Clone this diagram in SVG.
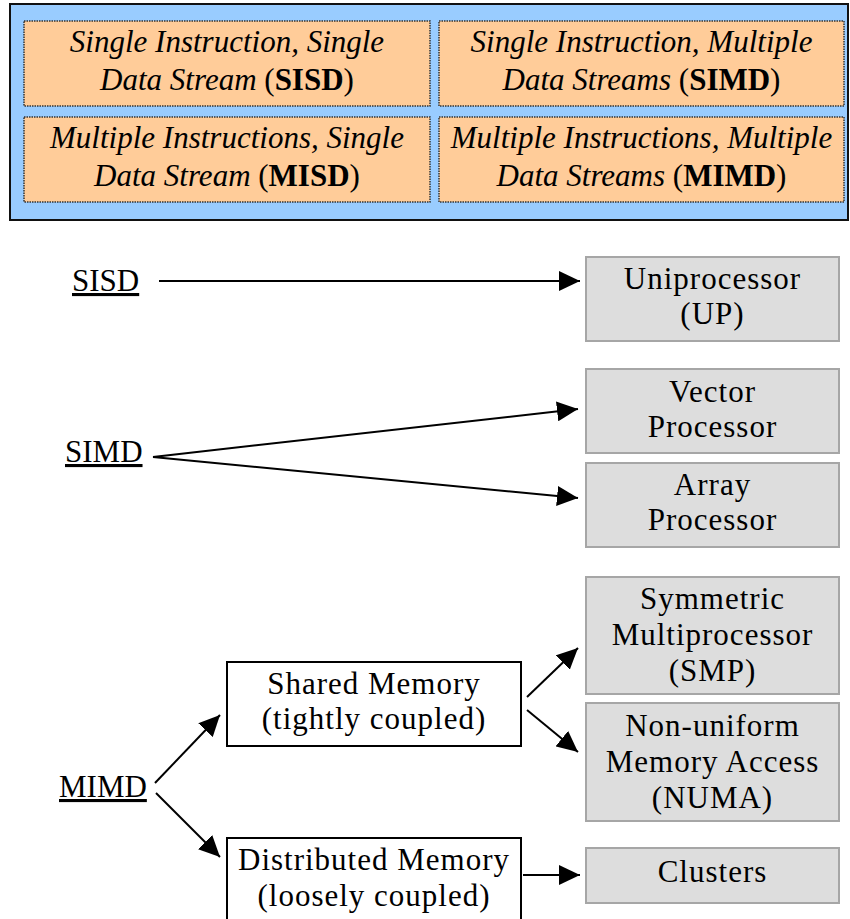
<svg xmlns="http://www.w3.org/2000/svg" width="850" height="919" viewBox="0 0 850 919">
  <style>
    text { font-family: "Liberation Serif", serif; font-size: 31px; fill: #000; }
    .cell-text { font-style: italic; text-anchor: middle; }
    .cell-text .abbr { font-style: normal; font-weight: bold; }
    .cell-text .paren { font-style: normal; }
    .label { text-decoration: underline; }
    .box-text { text-anchor: middle; letter-spacing: 1px; }
    .panel { fill: #99ccff; stroke: #111; stroke-width: 2; }
    .cell { fill: #ffcc99; stroke: #333; stroke-width: 1.5; stroke-dasharray: 1.5 1; }
    .machine { fill: #dddddd; stroke: #a6a6a6; stroke-width: 2; }
    .memory { fill: #fff; stroke: #000; stroke-width: 2; }
    .conn line { stroke: #000; stroke-width: 2; marker-end: url(#arrow); }
  </style>
  <defs>
    <marker id="arrow" markerUnits="userSpaceOnUse" markerWidth="21" markerHeight="20" refX="21" refY="10" orient="auto">
      <path d="M0,0 L21,10 L0,20 Z" fill="#000"/>
    </marker>
  </defs>

  <rect width="850" height="919" fill="#fff"/>

  <!-- Flynn's taxonomy table -->
  <g id="taxonomy">
    <rect class="panel" x="10" y="4" width="838" height="216"/>
    <g id="cell-sisd">
      <rect class="cell" x="24" y="21" width="406" height="85"/>
      <text class="cell-text" x="227" y="52">Single Instruction, Single</text>
      <text class="cell-text" x="227" y="90">Data Stream <tspan class="paren">(</tspan><tspan class="abbr">SISD</tspan><tspan class="paren">)</tspan></text>
    </g>
    <g id="cell-simd">
      <rect class="cell" x="439" y="21" width="405" height="85"/>
      <text class="cell-text" x="641.5" y="52">Single Instruction, Multiple</text>
      <text class="cell-text" x="641.5" y="90">Data Streams <tspan class="paren">(</tspan><tspan class="abbr">SIMD</tspan><tspan class="paren">)</tspan></text>
    </g>
    <g id="cell-misd">
      <rect class="cell" x="24" y="117" width="406" height="85"/>
      <text class="cell-text" x="227" y="148">Multiple Instructions, Single</text>
      <text class="cell-text" x="227" y="186">Data Stream <tspan class="paren">(</tspan><tspan class="abbr">MISD</tspan><tspan class="paren">)</tspan></text>
    </g>
    <g id="cell-mimd">
      <rect class="cell" x="439" y="117" width="405" height="85"/>
      <text class="cell-text" x="641.5" y="148">Multiple Instructions, Multiple</text>
      <text class="cell-text" x="641.5" y="186">Data Streams <tspan class="paren">(</tspan><tspan class="abbr">MIMD</tspan><tspan class="paren">)</tspan></text>
    </g>
  </g>

  <!-- Connectors -->
  <g id="connectors" class="conn">
    <line x1="159" y1="281" x2="580" y2="281"/>
    <line x1="153" y1="457" x2="578" y2="409"/>
    <line x1="153" y1="457" x2="578" y2="498"/>
    <line x1="155" y1="783" x2="220" y2="715"/>
    <line x1="156" y1="793" x2="220" y2="857"/>
    <line x1="527" y1="697" x2="578" y2="648"/>
    <line x1="527" y1="710" x2="578" y2="752"/>
    <line x1="523" y1="875" x2="580" y2="875"/>
  </g>

  <!-- Category labels -->
  <g id="sisd"><text class="label" x="72" y="291">SISD</text></g>
  <g id="simd"><text class="label" x="65" y="462">SIMD</text></g>
  <g id="mimd"><text class="label" x="59" y="797">MIMD</text></g>

  <!-- Memory organisation -->
  <g id="shared-memory">
    <rect class="memory" x="227" y="662" width="294" height="84"/>
    <text class="box-text" x="374" y="694">Shared Memory</text>
    <text class="box-text" x="374" y="729">(tightly coupled)</text>
  </g>
  <g id="distributed-memory">
    <rect class="memory" x="227" y="838" width="294" height="84"/>
    <text class="box-text" x="374" y="870">Distributed Memory</text>
    <text class="box-text" x="374" y="906">(loosely coupled)</text>
  </g>

  <!-- Machine organisations -->
  <g id="uniprocessor">
    <rect class="machine" x="586" y="257" width="253" height="84"/>
    <text class="box-text" x="712.5" y="289">Uniprocessor</text>
    <text class="box-text" x="712.5" y="324">(UP)</text>
  </g>
  <g id="vector-processor">
    <rect class="machine" x="586" y="369" width="253" height="84"/>
    <text class="box-text" x="712.5" y="402">Vector</text>
    <text class="box-text" x="712.5" y="437">Processor</text>
  </g>
  <g id="array-processor">
    <rect class="machine" x="586" y="463" width="253" height="84"/>
    <text class="box-text" x="712.5" y="495">Array</text>
    <text class="box-text" x="712.5" y="530">Processor</text>
  </g>
  <g id="smp">
    <rect class="machine" x="586" y="577" width="253" height="117"/>
    <text class="box-text" x="712.5" y="609">Symmetric</text>
    <text class="box-text" x="712.5" y="645">Multiprocessor</text>
    <text class="box-text" x="712.5" y="681">(SMP)</text>
  </g>
  <g id="numa">
    <rect class="machine" x="586" y="703" width="253" height="118"/>
    <text class="box-text" x="712.5" y="736">Non-uniform</text>
    <text class="box-text" x="712.5" y="772">Memory Access</text>
    <text class="box-text" x="712.5" y="808">(NUMA)</text>
  </g>
  <g id="clusters">
    <rect class="machine" x="586" y="848" width="253" height="55"/>
    <text class="box-text" x="712.5" y="882">Clusters</text>
  </g>
</svg>
